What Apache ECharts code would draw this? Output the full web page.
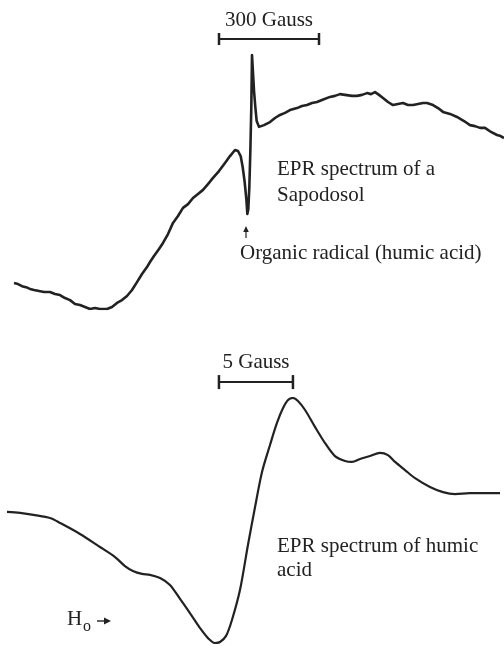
<!DOCTYPE html>
<html>
<head>
<meta charset="utf-8">
<script src="https://cdn.jsdelivr.net/npm/echarts@6/dist/echarts.min.js"></script>
<style>
  html, body { margin: 0; padding: 0; background: #fff; }
  #chart { width: 504px; height: 646px; }
</style>
</head>
<body>
<div id="chart"></div>
<script>
// Sapodosol soil EPR spectrum: field offset (Gauss) vs. derivative signal (a.u.)
const soilField = [0, 12, 24, 36, 48, 60, 75, 90, 108, 123, 138, 153, 168, 183, 198, 213, 228, 243, 258, 279, 294, 309, 324, 339, 354, 369, 384, 399, 408, 420, 435, 447, 462, 477, 492, 507, 522, 537, 552, 567, 582, 597, 615, 633, 648, 663,
  672, 680, 686, 692, 697, 700, 703, 706, 709, 712, 714, 717, 720, 724, 728, 735,
  741, 750, 768, 783, 798, 813, 828, 849, 864, 879, 894, 909, 924, 948, 963, 978, 993, 1014, 1029, 1044, 1059, 1071, 1083, 1095, 1107, 1122, 1137, 1152, 1167, 1182, 1197, 1212, 1227, 1239, 1257, 1272, 1287, 1308, 1329, 1350, 1368, 1383, 1398, 1413, 1431, 1449, 1460, 1470];
const soilSignal = [10.2, 9.8, 9.0, 8.6, 7.9, 7.5, 7.1, 6.7, 6.7, 5.9, 5.5, 4.3, 3.5, 2.0, 1.6, 0.8, 0.0, 0.4, 0.0, 0.0, 0.8, 2.4, 3.5, 5.1, 7.5, 10.6, 13.8, 16.5, 18.5, 20.9, 23.6, 26.0, 29.5, 33.9, 36.6, 39.8, 41.3, 43.7, 45.3, 46.9, 49.2, 51.6, 54.3, 57.5, 60.2, 62.6,
  62.2, 60.2, 55.9, 50.0, 43.3, 37.4, 39.4, 48.0, 62.0, 80.0, 100, 93.0, 86.0, 79.5, 74.0, 71.7,
  71.3, 72.4, 73.6, 75.2, 76.4, 77.2, 78.3, 79.1, 79.9, 80.3, 81.1, 81.5, 82.3, 83.5, 83.9, 84.6, 84.3, 83.9, 83.9, 84.3, 85.0, 84.6, 85.4, 84.3, 83.1, 81.5, 80.3, 80.7, 81.1, 80.3, 80.3, 80.7, 81.1, 81.1, 80.3, 79.1, 77.6, 76.8, 75.6, 74.0, 72.4, 72.0, 71.3, 71.3, 69.7, 68.5, 68.1, 67.3];

// Extracted humic acid EPR spectrum: field offset (Gauss) vs. derivative signal (a.u.)
const humicField = [0, 0.88, 1.89, 2.91, 3.58, 4.93, 6.28, 7.30, 7.97, 8.51, 9.12, 9.66, 10.34, 11.01, 11.69, 12.36, 13.04, 13.58, 14.05, 14.39, 14.80, 15.20, 15.74, 16.28, 16.76, 17.23, 17.77, 18.24, 18.65, 18.99, 19.32, 19.66, 20.14, 20.81, 21.49, 22.16, 22.84, 23.31, 23.85, 24.53, 25.20, 25.74, 26.22, 26.89, 27.57, 28.58, 29.46, 30.27, 31.28, 32.30, 33.31];
const humicSignal = [53.5, 53.1, 52.2, 51.0, 49.0, 44.5, 39.2, 35.1, 31.4, 29.4, 28.2, 27.8, 26.5, 23.7, 18.0, 12.2, 6.1, 2.0, 0.0, 0.4, 2.9, 9.4, 21.6, 40.0, 55.5, 69.8, 80.8, 89.8, 95.9, 99.2, 100, 98.8, 95.1, 88.2, 81.6, 76.3, 74.3, 73.9, 75.1, 76.3, 77.6, 76.7, 73.9, 70.6, 67.3, 63.7, 61.6, 60.8, 61.2, 61.2, 61.2];

// Field scale bars: [start field, length in Gauss, signal level]
const soilScaleBar = [615, 300, 106.3];
const humicScaleBar = [14.32, 5, 106.5];
const soilScaleLabel = '300 Gauss';
const humicScaleLabel = '5 Gauss';

const ink = '#222';
const serif = '"Liberation Serif", "Times New Roman", serif';

function pairs(xs, ys) { return xs.map((x, i) => [x, ys[i]]); }
function barPoints(bar) { return [[bar[0], bar[2]], [bar[0] + bar[1], bar[2]]]; }

function label(text, x, y, align, size) {
  return {
    type: 'text', x: x, y: y,
    style: { text: text, font: (size || 21) + 'px ' + serif, fill: ink,
             align: align || 'left', verticalAlign: 'middle' }
  };
}

const chart = echarts.init(document.getElementById('chart'), null, { renderer: 'canvas' });

chart.setOption({
  animation: false,
  backgroundColor: '#fff',
  grid: [
    { left: 14, right: 0, top: 55, bottom: 337 },
    { left: 7, right: 4, top: 398, bottom: 3 }
  ],
  xAxis: [
    { type: 'value', gridIndex: 0, min: 0, max: 1470, show: false },
    { type: 'value', gridIndex: 1, min: 0, max: 33.31, show: false }
  ],
  yAxis: [
    { type: 'value', gridIndex: 0, min: 0, max: 100, show: false },
    { type: 'value', gridIndex: 1, min: 0, max: 100, show: false }
  ],
  series: [
    {
      type: 'line', xAxisIndex: 0, yAxisIndex: 0,
      data: pairs(soilField, soilSignal),
      showSymbol: false, symbol: 'none',
      lineStyle: { color: ink, width: 2.6, join: 'round' }
    },
    {
      type: 'line', xAxisIndex: 1, yAxisIndex: 1,
      data: pairs(humicField, humicSignal),
      showSymbol: false, symbol: 'none', smooth: 0.3,
      lineStyle: { color: ink, width: 2.2 }
    },
    {
      type: 'line', xAxisIndex: 0, yAxisIndex: 0, clip: false,
      data: barPoints(soilScaleBar),
      symbol: 'rect', symbolSize: [2.5, 12], showSymbol: true,
      itemStyle: { color: ink },
      lineStyle: { color: ink, width: 2 }
    },
    {
      type: 'line', xAxisIndex: 1, yAxisIndex: 1, clip: false,
      data: barPoints(humicScaleBar),
      symbol: 'rect', symbolSize: [2.5, 14], showSymbol: true,
      itemStyle: { color: ink },
      lineStyle: { color: ink, width: 2 }
    }
  ],
  graphic: [
    label(soilScaleLabel, 269, 20, 'center'),
    label('EPR spectrum of a', 277, 169),
    label('Sapodosol', 277, 195),
    label('Organic radical (humic acid)', 240, 253),
    label(humicScaleLabel, 256, 362, 'center'),
    label('EPR spectrum of humic', 277, 546),
    label('acid', 277, 570),
    label('H', 67, 619),
    label('o', 83, 627, 'left', 16),
    // arrow pointing up at the organic radical line
    { type: 'line', shape: { x1: 246, y1: 238, x2: 246, y2: 230 }, style: { stroke: ink, lineWidth: 1.2 } },
    { type: 'polygon', shape: { points: [[246, 226], [243.2, 232], [248.8, 232]] }, style: { fill: ink } },
    // field direction arrow
    { type: 'line', shape: { x1: 97, y1: 621, x2: 106, y2: 621 }, style: { stroke: ink, lineWidth: 1.4 } },
    { type: 'polygon', shape: { points: [[111, 621], [104, 617.6], [104, 624.4]] }, style: { fill: ink } }
  ]
});
</script>
</body>
</html>
